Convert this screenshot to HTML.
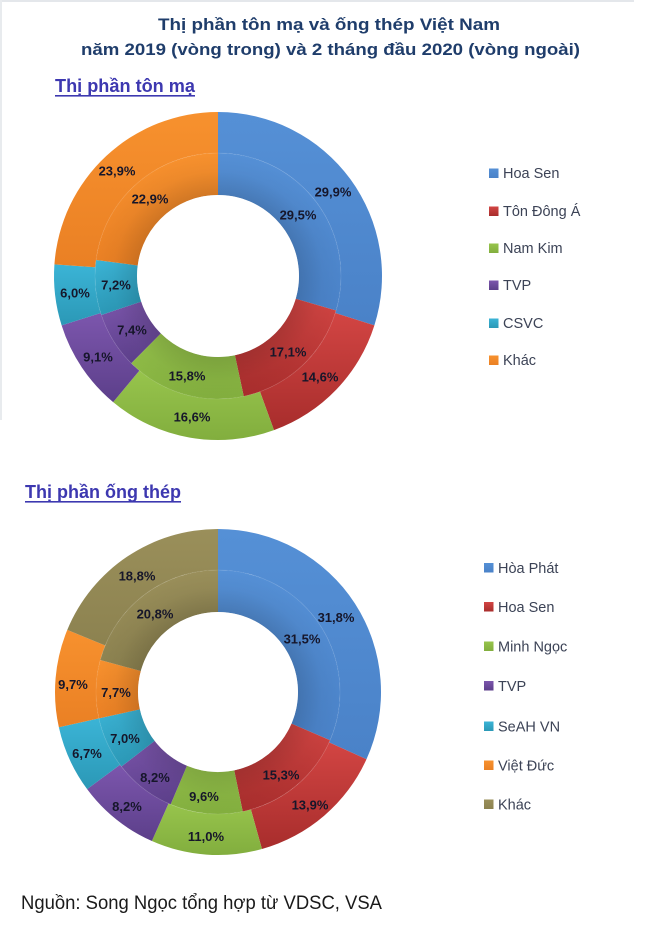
<!DOCTYPE html>
<html>
<head>
<meta charset="utf-8">
<style>
  html,body{margin:0;padding:0;background:#fff;}
  svg{display:block;}
  .lbl{font-family:"Liberation Sans",sans-serif;font-weight:bold;font-size:13px;fill:#16162a;text-anchor:middle;}
  .leg{font-family:"Liberation Sans",sans-serif;font-size:14.5px;fill:#3c4356;}
</style>
</head>
<body>
<svg width="653" height="928" viewBox="0 0 653 928" xmlns="http://www.w3.org/2000/svg">
  <defs>
    <linearGradient id="gBlue" x1="0" y1="0" x2="0" y2="1"><stop offset="0" stop-color="#5590d6"/><stop offset="1" stop-color="#4a82c8"/></linearGradient>
    <linearGradient id="gRed" x1="0" y1="0" x2="0" y2="1"><stop offset="0" stop-color="#d24543"/><stop offset="1" stop-color="#a82d2c"/></linearGradient>
    <linearGradient id="gGreen" x1="0" y1="0" x2="0" y2="1"><stop offset="0" stop-color="#97c44c"/><stop offset="1" stop-color="#82ae3e"/></linearGradient>
    <linearGradient id="gPurple" x1="0" y1="0" x2="0" y2="1"><stop offset="0" stop-color="#7c56ad"/><stop offset="1" stop-color="#5c3f8a"/></linearGradient>
    <linearGradient id="gCyan" x1="0" y1="0" x2="0" y2="1"><stop offset="0" stop-color="#3bb4d6"/><stop offset="1" stop-color="#2b98b6"/></linearGradient>
    <linearGradient id="gOrange" x1="0" y1="0" x2="0" y2="1"><stop offset="0" stop-color="#f7912e"/><stop offset="1" stop-color="#ea8024"/></linearGradient>
    <linearGradient id="gOlive" x1="0" y1="0" x2="0" y2="1"><stop offset="0" stop-color="#9a8f5a"/><stop offset="1" stop-color="#8c8250"/></linearGradient>
    <radialGradient id="shadeTop" gradientUnits="userSpaceOnUse" cx="218" cy="276" r="123">
      <stop offset="0.65" stop-color="#000" stop-opacity="0.14"/>
      <stop offset="0.85" stop-color="#000" stop-opacity="0.03"/>
      <stop offset="1" stop-color="#000" stop-opacity="0"/>
    </radialGradient>
    <radialGradient id="shadeBot" gradientUnits="userSpaceOnUse" cx="218" cy="692" r="122">
      <stop offset="0.65" stop-color="#000" stop-opacity="0.14"/>
      <stop offset="0.85" stop-color="#000" stop-opacity="0.03"/>
      <stop offset="1" stop-color="#000" stop-opacity="0"/>
    </radialGradient>
  </defs>

  <!-- faint frame -->
  <rect x="0" y="0" width="634" height="2" fill="#e4e7eb"/>
  <rect x="0" y="0" width="2" height="420" fill="#e8ebee"/>

  <!-- Title -->
  <text x="158" y="30" textLength="342" lengthAdjust="spacingAndGlyphs" font-family="Liberation Sans, sans-serif" font-weight="bold" font-size="17" fill="#1f3d6b">Thị phần tôn mạ và ống thép Việt Nam</text>
  <text x="81" y="55" textLength="499" lengthAdjust="spacingAndGlyphs" font-family="Liberation Sans, sans-serif" font-weight="bold" font-size="17" fill="#1f3d6b">năm 2019 (vòng trong) và 2 tháng đầu 2020 (vòng ngoài)</text>

  <!-- Subtitle 1 -->
  <text x="55" y="92" textLength="140" lengthAdjust="spacingAndGlyphs" font-family="Liberation Sans, sans-serif" font-weight="bold" font-size="18.5" fill="#3d38b0">Thị phần tôn mạ</text>
  <rect x="55" y="95" width="140" height="1.6" fill="#3d38b0"/>

  <!-- ===== TOP DONUT ===== -->
  <path d="M218,112 A164,164 0 0 1 374.38,325.40 L335.29,313.05 A123,123 0 0 0 218,153 Z" fill="url(#gBlue)"/>
  <path d="M374.38,325.40 A164,164 0 0 1 273.98,430.15 L259.99,391.61 A123,123 0 0 0 335.29,313.05 Z" fill="url(#gRed)"/>
  <path d="M273.98,430.15 A164,164 0 0 1 113.15,402.11 L139.37,370.58 A123,123 0 0 0 259.99,391.61 Z" fill="url(#gGreen)"/>
  <path d="M113.15,402.11 A164,164 0 0 1 61.62,325.40 L100.71,313.05 A123,123 0 0 0 139.37,370.58 Z" fill="url(#gPurple)"/>
  <path d="M61.62,325.40 A164,164 0 0 1 54.41,264.42 L95.31,267.31 A123,123 0 0 0 100.71,313.05 Z" fill="url(#gCyan)"/>
  <path d="M54.41,264.42 A164,164 0 0 1 218,112 L218,153 A123,123 0 0 0 95.31,267.31 Z" fill="url(#gOrange)"/>
  <path d="M218,153 A123,123 0 0 1 336.05,310.54 L295.74,298.75 A81,81 0 0 0 218,195 Z" fill="url(#gBlue)"/>
  <path d="M336.05,310.54 A123,123 0 0 1 243.72,396.28 L234.94,355.21 A81,81 0 0 0 295.74,298.75 Z" fill="url(#gRed)"/>
  <path d="M243.72,396.28 A123,123 0 0 1 131.24,363.19 L160.86,333.42 A81,81 0 0 0 234.94,355.21 Z" fill="url(#gGreen)"/>
  <path d="M131.24,363.19 A123,123 0 0 1 101.34,314.97 L141.17,301.66 A81,81 0 0 0 160.86,333.42 Z" fill="url(#gPurple)"/>
  <path d="M101.34,314.97 A123,123 0 0 1 96.05,259.99 L137.69,265.46 A81,81 0 0 0 141.17,301.66 Z" fill="url(#gCyan)"/>
  <path d="M96.05,259.99 A123,123 0 0 1 218,153 L218,195 A81,81 0 0 0 137.69,265.46 Z" fill="url(#gOrange)"/>
  <circle cx="218" cy="276" r="123" fill="url(#shadeTop)"/>
  <circle cx="218" cy="276" r="123" fill="none" stroke="#ffffff" stroke-opacity="0.07" stroke-width="1"/>
  <circle cx="218" cy="276" r="81" fill="#ffffff"/>

  <text class="lbl" x="333" y="196.5">29,9%</text>
  <text class="lbl" x="298" y="219.5">29,5%</text>
  <text class="lbl" x="288" y="356.5">17,1%</text>
  <text class="lbl" x="320" y="381.5">14,6%</text>
  <text class="lbl" x="187" y="380.5">15,8%</text>
  <text class="lbl" x="192" y="421.5">16,6%</text>
  <text class="lbl" x="132" y="334.5">7,4%</text>
  <text class="lbl" x="98" y="361.5">9,1%</text>
  <text class="lbl" x="116" y="289.5">7,2%</text>
  <text class="lbl" x="75" y="297.5">6,0%</text>
  <text class="lbl" x="150" y="203.5">22,9%</text>
  <text class="lbl" x="117" y="175.5">23,9%</text>

  <rect x="489" y="168.5" width="9.5" height="9.5" fill="url(#gBlue)"/>
  <text class="leg" x="503" y="178">Hoa Sen</text>
  <rect x="489" y="206.5" width="9.5" height="9.5" fill="url(#gRed)"/>
  <text class="leg" x="503" y="216">Tôn Đông Á</text>
  <rect x="489" y="243.5" width="9.5" height="9.5" fill="url(#gGreen)"/>
  <text class="leg" x="503" y="253">Nam Kim</text>
  <rect x="489" y="280.5" width="9.5" height="9.5" fill="url(#gPurple)"/>
  <text class="leg" x="503" y="290">TVP</text>
  <rect x="489" y="318.5" width="9.5" height="9.5" fill="url(#gCyan)"/>
  <text class="leg" x="503" y="328">CSVC</text>
  <rect x="489" y="355.5" width="9.5" height="9.5" fill="url(#gOrange)"/>
  <text class="leg" x="503" y="365">Khác</text>

  <!-- Subtitle 2 -->
  <text x="25" y="498" textLength="156" lengthAdjust="spacingAndGlyphs" font-family="Liberation Sans, sans-serif" font-weight="bold" font-size="18.5" fill="#3d38b0">Thị phần ống thép</text>
  <rect x="25" y="501" width="156" height="1.6" fill="#3d38b0"/>

  <!-- ===== BOTTOM DONUT ===== -->
  <path d="M218,529 A163,163 0 0 1 366.48,759.26 L329.13,742.34 A122,122 0 0 0 218,570 Z" fill="url(#gBlue)"/>
  <path d="M366.48,759.26 A163,163 0 0 1 261.94,848.97 L250.89,809.48 A122,122 0 0 0 329.13,742.34 Z" fill="url(#gRed)"/>
  <path d="M261.94,848.97 A163,163 0 0 1 151.91,841.00 L168.53,803.52 A122,122 0 0 0 250.89,809.48 Z" fill="url(#gGreen)"/>
  <path d="M151.91,841.00 A163,163 0 0 1 87.12,789.16 L120.04,764.72 A122,122 0 0 0 168.53,803.52 Z" fill="url(#gPurple)"/>
  <path d="M87.12,789.16 A163,163 0 0 1 58.86,727.28 L98.89,718.41 A122,122 0 0 0 120.04,764.72 Z" fill="url(#gCyan)"/>
  <path d="M58.86,727.28 A163,163 0 0 1 67.29,629.91 L105.20,645.53 A122,122 0 0 0 98.89,718.41 Z" fill="url(#gOrange)"/>
  <path d="M67.29,629.91 A163,163 0 0 1 218,529 L218,570 A122,122 0 0 0 105.20,645.53 Z" fill="url(#gOlive)"/>
  <path d="M218,570 A122,122 0 0 1 330.06,740.24 L291.48,723.63 A80,80 0 0 0 218,612 Z" fill="url(#gBlue)"/>
  <path d="M330.06,740.24 A122,122 0 0 1 242.72,811.47 L234.21,770.34 A80,80 0 0 0 291.48,723.63 Z" fill="url(#gRed)"/>
  <path d="M242.72,811.47 A122,122 0 0 1 170.64,804.43 L186.95,765.73 A80,80 0 0 0 234.21,770.34 Z" fill="url(#gGreen)"/>
  <path d="M170.64,804.43 A122,122 0 0 1 121.43,766.56 L154.68,740.89 A80,80 0 0 0 186.95,765.73 Z" fill="url(#gPurple)"/>
  <path d="M121.43,766.56 A122,122 0 0 1 98.89,718.41 L139.90,709.32 A80,80 0 0 0 154.68,740.89 Z" fill="url(#gCyan)"/>
  <path d="M98.89,718.41 A122,122 0 0 1 100.26,660.03 L140.80,671.04 A80,80 0 0 0 139.90,709.32 Z" fill="url(#gOrange)"/>
  <path d="M100.26,660.03 A122,122 0 0 1 218,570 L218,612 A80,80 0 0 0 140.80,671.04 Z" fill="url(#gOlive)"/>
  <circle cx="218" cy="692" r="122" fill="url(#shadeBot)"/>
  <circle cx="218" cy="692" r="122" fill="none" stroke="#ffffff" stroke-opacity="0.07" stroke-width="1"/>
  <circle cx="218" cy="692" r="80" fill="#ffffff"/>

  <text class="lbl" x="336" y="622">31,8%</text>
  <text class="lbl" x="302" y="643.5">31,5%</text>
  <text class="lbl" x="281" y="779.5">15,3%</text>
  <text class="lbl" x="310" y="809.5">13,9%</text>
  <text class="lbl" x="204" y="801">9,6%</text>
  <text class="lbl" x="206" y="841">11,0%</text>
  <text class="lbl" x="155" y="782">8,2%</text>
  <text class="lbl" x="127" y="811">8,2%</text>
  <text class="lbl" x="125" y="743">7,0%</text>
  <text class="lbl" x="87" y="758">6,7%</text>
  <text class="lbl" x="116" y="697">7,7%</text>
  <text class="lbl" x="73" y="689">9,7%</text>
  <text class="lbl" x="155" y="618.5">20,8%</text>
  <text class="lbl" x="137" y="580.5">18,8%</text>

  <rect x="484" y="563" width="9.5" height="9.5" fill="url(#gBlue)"/>
  <text class="leg" x="498" y="573">Hòa Phát</text>
  <rect x="484" y="602" width="9.5" height="9.5" fill="url(#gRed)"/>
  <text class="leg" x="498" y="612">Hoa Sen</text>
  <rect x="484" y="641.5" width="9.5" height="9.5" fill="url(#gGreen)"/>
  <text class="leg" x="498" y="651.5">Minh Ngọc</text>
  <rect x="484" y="681" width="9.5" height="9.5" fill="url(#gPurple)"/>
  <text class="leg" x="498" y="691">TVP</text>
  <rect x="484" y="721.5" width="9.5" height="9.5" fill="url(#gCyan)"/>
  <text class="leg" x="498" y="731.5">SeAH VN</text>
  <rect x="484" y="760.5" width="9.5" height="9.5" fill="url(#gOrange)"/>
  <text class="leg" x="498" y="770.5">Việt Đức</text>
  <rect x="484" y="799.5" width="9.5" height="9.5" fill="url(#gOlive)"/>
  <text class="leg" x="498" y="809.5">Khác</text>

  <text x="21" y="909" textLength="361" lengthAdjust="spacingAndGlyphs" font-family="Liberation Sans, sans-serif" font-size="19" fill="#1a1a1a">Nguồn: Song Ngọc tổng hợp từ VDSC, VSA</text>
</svg>
</body>
</html>
